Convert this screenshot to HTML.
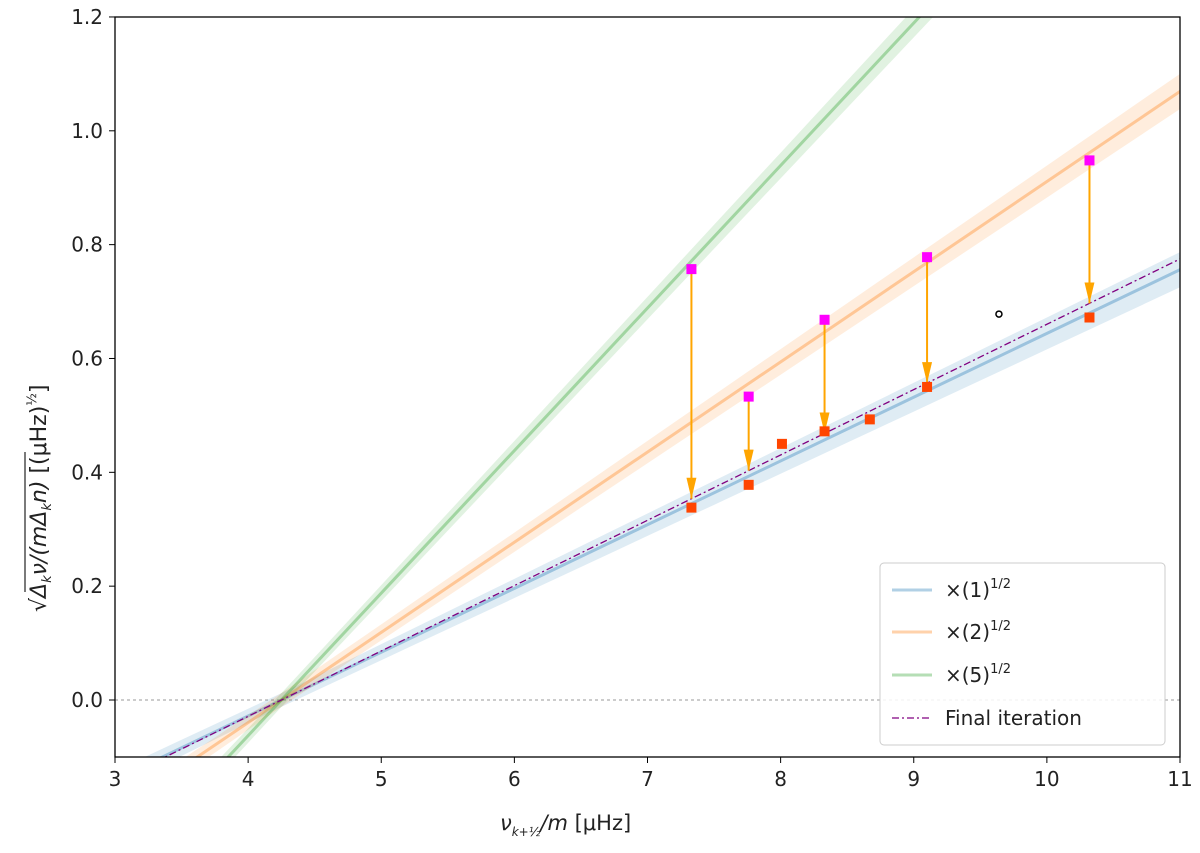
<!DOCTYPE html>
<html><head><meta charset="utf-8"><style>
html,body{margin:0;padding:0;background:#fff;overflow:hidden;width:1200px;height:853px}
svg{display:block}
svg text{font-family:"DejaVu Sans","Liberation Sans",sans-serif;fill:#222}
</style></head><body>
<svg id="chart" width="1200" height="853" xmlns="http://www.w3.org/2000/svg">
<defs>
<clipPath id="clip"><rect x="115" y="17" width="1065" height="740"/></clipPath>
<marker id="ah" markerWidth="22" markerHeight="10" refX="21" refY="5" orient="auto" markerUnits="userSpaceOnUse"><path d="M0,0 L21,5 L0,10 Z" fill="#ffa500"/></marker>
</defs>
<g id="plot" clip-path="url(#clip)"></g>
<g id="axes"></g>
<text x="500" y="830" font-size="21"><tspan font-style="italic">ν</tspan><tspan font-size="12" font-style="italic" dy="6">k+½</tspan><tspan dy="-6" font-style="italic">/m</tspan>  [μHz]</text>
<g transform="translate(46,612) rotate(-90)">
<text x="0" y="0" font-size="22">√<tspan font-style="italic">Δ</tspan><tspan font-size="13" font-style="italic" dy="5">k</tspan><tspan dy="-5" font-style="italic">ν/(mΔ</tspan><tspan font-size="13" font-style="italic" dy="5">k</tspan><tspan dy="-5" font-style="italic">n)</tspan>   [(μHz)<tspan font-size="13" dy="-10">½</tspan><tspan dy="10">]</tspan></text>
<line x1="20" y1="-21" x2="160" y2="-21" stroke="#222" stroke-width="1.2"/>
</g>
<g>
<rect x="880" y="563" width="285" height="182" rx="4" fill="#fff" fill-opacity="0.85" stroke="#ccc"/>
<line x1="892" y1="590" x2="932" y2="590" stroke="#1f77b4" stroke-opacity="0.35" stroke-width="3"/>
<text x="945" y="597" font-size="20">×(1)<tspan font-size="13" dy="-9">1/2</tspan></text>
<line x1="892" y1="632" x2="932" y2="632" stroke="#ff7f0e" stroke-opacity="0.35" stroke-width="3"/>
<text x="945" y="639" font-size="20">×(2)<tspan font-size="13" dy="-9">1/2</tspan></text>
<line x1="892" y1="675" x2="932" y2="675" stroke="#2ca02c" stroke-opacity="0.35" stroke-width="3"/>
<text x="945" y="682" font-size="20">×(5)<tspan font-size="13" dy="-9">1/2</tspan></text>
<line x1="892" y1="718" x2="932" y2="718" stroke="#800080" stroke-width="1.3" stroke-dasharray="7,3,2,3"/>
<text x="945" y="725" font-size="20">Final iteration</text>
</g>
</svg>
<script>
const xTicks=[3,4,5,6,7,8,9,10,11];
const yTicks=[0.0,0.2,0.4,0.6,0.8,1.0,1.2];
const pivot=4.25;
const slopes=[0.112,0.1584,0.2504];
const colors=["#1f77b4","#ff7f0e","#2ca02c"];
const finalSlope=0.1148;
const magX=[7.33,7.76,8.33,9.1,10.32];
const magY=[0.757,0.533,0.668,0.778,0.948];
const redX=[7.33,7.76,8.01,8.33,8.67,9.1,10.32];
const redY=[0.338,0.378,0.45,0.472,0.493,0.55,0.672];
const circX=[9.64], circY=[0.678];
const X=v=>115+(v-3)*133.125;
const Y=v=>700-v*569.2;
const NS="http://www.w3.org/2000/svg";
function mk(p,t,a){const e=document.createElementNS(NS,t);for(const k in a)e.setAttribute(k,a[k]);p.appendChild(e);return e;}
const plot=document.getElementById('plot'),axes=document.getElementById('axes');
let z=mk(plot,'line',{x1:115,x2:1180,y1:Y(0),y2:Y(0),stroke:'#999','stroke-dasharray':'3,3','stroke-width':1});


slopes.forEach((s,i)=>{
  const hw=x=>0.012+0.0028*Math.abs(x-pivot);
  const xs=[];for(let x=2.5;x<=11.5;x+=0.25)xs.push(x);
  const top=xs.map(x=>X(x)+','+Y(s*(x-pivot)+hw(x)));
  const bot=xs.slice().reverse().map(x=>X(x)+','+Y(s*(x-pivot)-hw(x)));
  const b=mk(plot,'polygon',{points:top.concat(bot).join(' '),fill:colors[i],'fill-opacity':0.14});
  
  
  const l=mk(plot,'line',{x1:X(2.5),y1:Y(s*(2.5-pivot)),x2:X(11.5),y2:Y(s*(11.5-pivot)),stroke:colors[i],'stroke-opacity':0.35,'stroke-width':3});
  
  
});
const fl=mk(plot,'line',{x1:X(2.5),y1:Y(finalSlope*(2.5-pivot)),x2:X(11.5),y2:Y(finalSlope*(11.5-pivot)),stroke:'#800080','stroke-width':1.3,'stroke-dasharray':'7,3,2,3'});


magX.forEach((x,i)=>{
  const a=mk(plot,'line',{x1:X(x),y1:Y(magY[i]),x2:X(x),y2:Y(finalSlope*(x-pivot)),stroke:'#ffa500','stroke-width':2,'marker-end':'url(#ah)'});
  
  
});
redX.forEach((x,i)=>{
  const r=mk(plot,'rect',{x:X(x)-5,y:Y(redY[i])-5,width:10,height:10,fill:'#ff4500'});
  
  
});
magX.forEach((x,i)=>{
  const r=mk(plot,'rect',{x:X(x)-5,y:Y(magY[i])-5,width:10,height:10,fill:'#ff00ff'});
  
  
});
circX.forEach((x,i)=>{
  const c=mk(plot,'circle',{cx:X(x),cy:Y(circY[i]),r:3,fill:'none',stroke:'#000','stroke-width':1.5});
  
  
});
const fr=mk(axes,'rect',{x:115,y:17,width:1065,height:740,fill:'none',stroke:'#000','stroke-width':1.3});


xTicks.forEach(t=>{
  const l=mk(axes,'line',{x1:X(t),x2:X(t),y1:757,y2:763,stroke:'#000'});
  
  
  const tx=mk(axes,'text',{x:X(t),y:786,'text-anchor':'middle','font-size':20});tx.textContent=t;
  
  
});
yTicks.forEach(t=>{
  const l=mk(axes,'line',{x1:109,x2:115,y1:Y(t),y2:Y(t),stroke:'#000'});
  
  
  const tx=mk(axes,'text',{x:103,y:Y(t)+7,'text-anchor':'end','font-size':20});tx.textContent=t.toFixed(1);
  
  
});
</script>
</body></html>
